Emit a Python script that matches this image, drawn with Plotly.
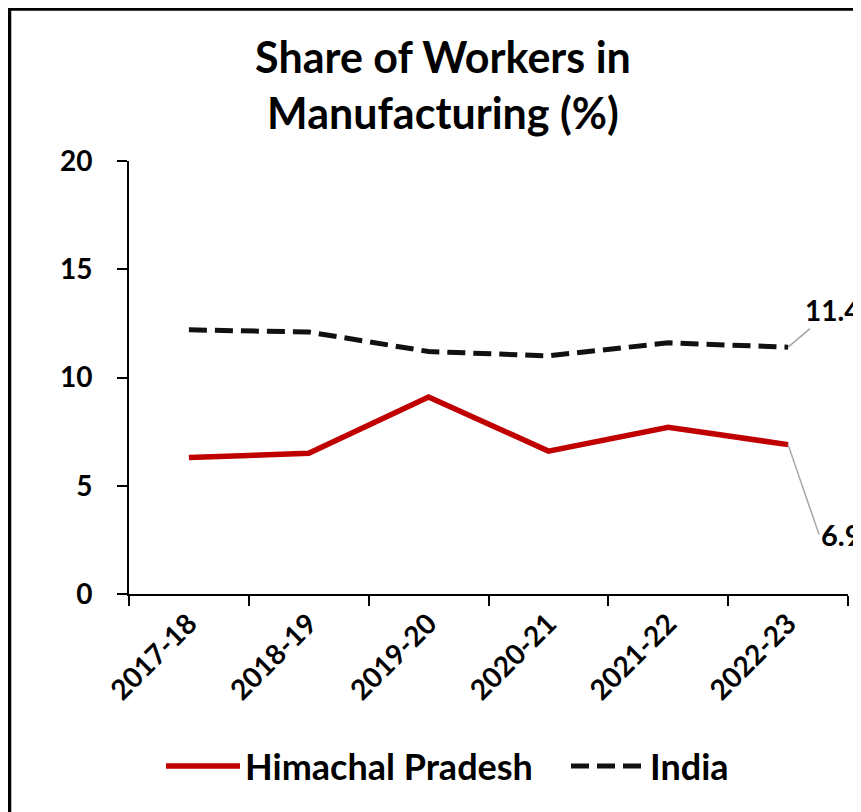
import plotly.graph_objects as go

years = ["2017-18", "2018-19", "2019-20", "2020-21", "2021-22", "2022-23"]
himachal = [6.3, 6.5, 9.1, 6.6, 7.7, 6.9]
india = [12.2, 12.1, 11.2, 11.0, 11.6, 11.4]
y_ticks = [0, 5, 10, 15, 20]

FONT = "Lato"

fig = go.Figure()
fig.add_trace(go.Scatter(x=years, y=himachal, mode="lines", name="Himachal Pradesh",
                         line=dict(color="#C00000", width=5.5), legend="legend"))
fig.add_trace(go.Scatter(x=years, y=india, mode="lines", name="India",
                         line=dict(color="#111111", width=5, dash="18px,8px"),
                         legend="legend2"))

# page body has an 8px margin, so the figure starts at (8, 8) on screen
W, H = 853, 804
L, R, T, B = 121, 13, 153, 218
pw, ph = W - L - R, H - T - B

def px_x(p):
    return (p - L) / pw

def px_y(p):
    return (H - B - p) / ph

legend_style = dict(orientation="h", xanchor="left", y=px_y(758), yanchor="middle",
                    font=dict(size=36, family=FONT, color="black", weight="bold"),
                    itemwidth=74, bgcolor="rgba(0,0,0,0)")

fig.update_layout(
    width=W, height=H,
    margin=dict(l=L, r=R, t=T, b=B, autoexpand=False),
    paper_bgcolor="white", plot_bgcolor="white",
    font=dict(family=FONT, color="black"),
    title=dict(text="<b>Share of Workers in<br>Manufacturing (%)</b>",
               font=dict(size=43, family=FONT, color="black"),
               x=px_x(435), xref="paper", xanchor="center",
               y=1 - 65 / H, yref="container", yanchor="middle"),
    showlegend=True,
    legend=dict(x=px_x(153), **legend_style),
    legend2=dict(x=px_x(558), **legend_style),
    xaxis=dict(type="category", range=[-0.5, 5.5], showgrid=False,
               showline=True, linecolor="black", linewidth=2,
               ticks="outside", tickson="boundaries", ticklen=10, tickwidth=2,
               tickcolor="black", tickangle=-45,
               tickfont=dict(size=28, family=FONT, color="black", weight="bold")),
    yaxis=dict(range=[0, 20], tickvals=y_ticks, showgrid=False, zeroline=False,
               showline=True, linecolor="black", linewidth=2,
               ticks="outside", ticklen=10, tickwidth=2, tickcolor="black",
               ticklabelstandoff=19,
               tickfont=dict(size=28, family=FONT, color="black", weight="bold")),
    shapes=[dict(type="rect", xref="paper", yref="paper",
                 x0=px_x(1.5), x1=px_x(W + 20), y0=px_y(H + 20), y1=px_y(1.0),
                 line=dict(color="black", width=3.5), fillcolor="rgba(0,0,0,0)",
                 layer="below")],
)

fig.add_annotation(x=years[-1], y=india[-1], text=f"<b>{india[-1]}</b>",
                   showarrow=True, arrowhead=0, arrowcolor="#A6A6A6", arrowwidth=1.5,
                   ax=44, ay=-37, font=dict(size=28, family=FONT, color="black"))
fig.add_annotation(x=years[-1], y=himachal[-1], text=f"<b>{himachal[-1]}</b>",
                   showarrow=True, arrowhead=0, arrowcolor="#A6A6A6", arrowwidth=1.5,
                   ax=31, ay=90, xanchor="left", font=dict(size=29, family=FONT, color="black"))

fig.write_html("out.html")
